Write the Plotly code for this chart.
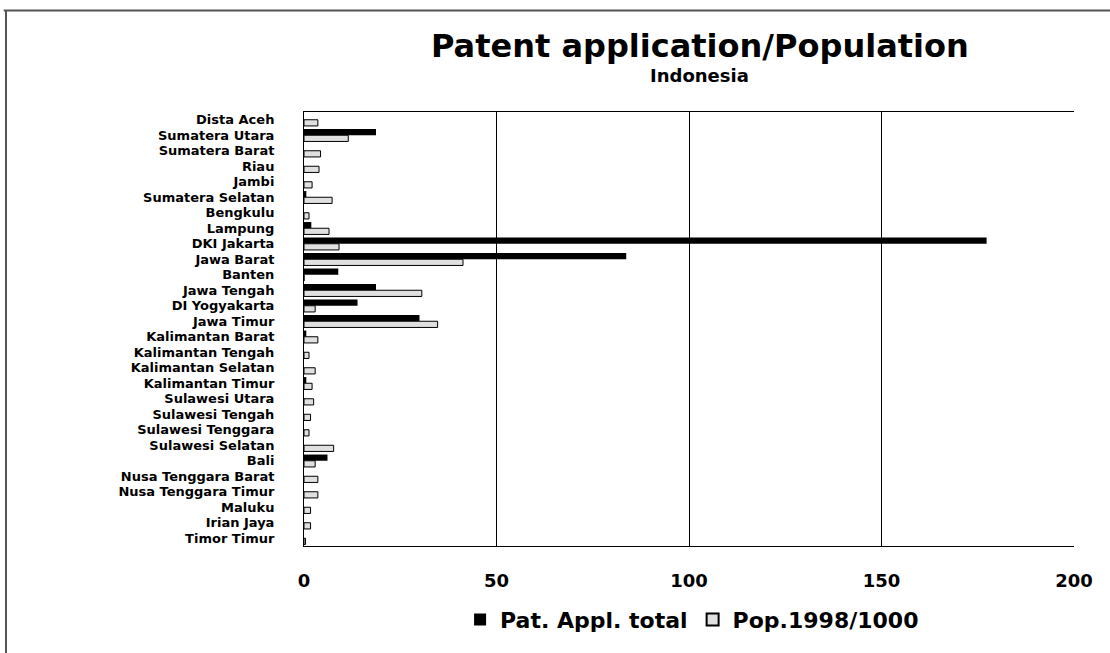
import plotly.graph_objects as go

provinces = ["Dista Aceh", "Sumatera Utara", "Sumatera Barat", "Riau", "Jambi",
             "Sumatera Selatan", "Bengkulu", "Lampung", "DKI Jakarta", "Jawa Barat",
             "Banten", "Jawa Tengah", "DI Yogyakarta", "Jawa Timur", "Kalimantan Barat",
             "Kalimantan Tengah", "Kalimantan Selatan", "Kalimantan Timur", "Sulawesi Utara",
             "Sulawesi Tengah", "Sulawesi Tenggara", "Sulawesi Selatan", "Bali",
             "Nusa Tenggara Barat", "Nusa Tenggara Timur", "Maluku", "Irian Jaya", "Timor Timur"]
pat_appl_total = [0, 18.7, 0, 0, 0, 0.6, 0, 1.9, 177.3, 83.7,
                  8.9, 18.7, 13.9, 30.0, 0.6, 0, 0, 0.6, 0, 0,
                  0, 0, 6.1, 0, 0, 0, 0, 0]
pop_1998_per_1000 = [3.6, 11.5, 4.3, 3.9, 2.1, 7.3, 1.3, 6.5, 9.1, 41.3,
                     0, 30.6, 2.9, 34.7, 3.6, 1.3, 2.9, 2.1, 2.5, 1.7,
                     1.3, 7.7, 2.9, 3.6, 3.6, 1.7, 1.7, 0.4]
x_ticks = [0, 50, 100, 150, 200]

FONT = "DejaVu Sans"

fig = go.Figure()
fig.add_trace(go.Bar(y=provinces, x=pat_appl_total, orientation="h",
                     name="Pat. Appl. total",
                     marker=dict(color="black", line=dict(width=0))))
fig.add_trace(go.Bar(y=provinces, x=pop_1998_per_1000, orientation="h",
                     name="Pop.1998/1000",
                     marker=dict(color="#e0e0e0", line=dict(color="black", width=1))))

fig.update_layout(
    width=1110, height=653,
    margin=dict(l=304, r=36, t=112, b=97),
    paper_bgcolor="white", plot_bgcolor="white",
    barmode="group", bargap=0.2, bargroupgap=0,
    font=dict(family=FONT, color="black", weight="bold"),
    showlegend=True,
    legend=dict(orientation="h", x=0.504, xanchor="center", y=-0.17, yanchor="middle",
                font=dict(family=FONT, size=22, color="black", weight="bold"),
                itemsizing="constant", traceorder="normal"),
    xaxis=dict(range=[0, 200], tickvals=x_ticks, showgrid=True, gridcolor="black",
               gridwidth=1, showline=True, linecolor="black", linewidth=1, mirror=True,
               ticks="", ticklabelstandoff=18, zeroline=False,
               tickfont=dict(family=FONT, size=18, color="black", weight="bold")),
    yaxis=dict(autorange="reversed", showgrid=False, showline=True, linecolor="black",
               linewidth=1, ticks="", ticklabelstandoff=26, tickmode="linear", dtick=1,
               tickfont=dict(family=FONT, size=13, color="black", weight="bold")),
    annotations=[
        dict(text="Patent application/Population", x=0.514, y=1.153, xref="paper", yref="paper",
             xanchor="center", yanchor="middle", showarrow=False,
             font=dict(family=FONT, size=32, color="black", weight="bold")),
        dict(text="Indonesia", x=0.514, y=1.083, xref="paper", yref="paper",
             xanchor="center", yanchor="middle", showarrow=False,
             font=dict(family=FONT, size=18, color="black", weight="bold")),
    ],
    shapes=[
        dict(type="line", xref="paper", yref="paper", x0=-0.39, x1=1.06, y0=1.234, y1=1.234,
             line=dict(color="#555555", width=2)),
        dict(type="line", xref="paper", yref="paper", x0=-0.387, x1=-0.387, y0=1.234, y1=-0.25,
             line=dict(color="#555555", width=2)),
    ],
)

fig.write_html("out.html", config={"displayModeBar": False},
               post_script="document.body.style.margin='0';")
